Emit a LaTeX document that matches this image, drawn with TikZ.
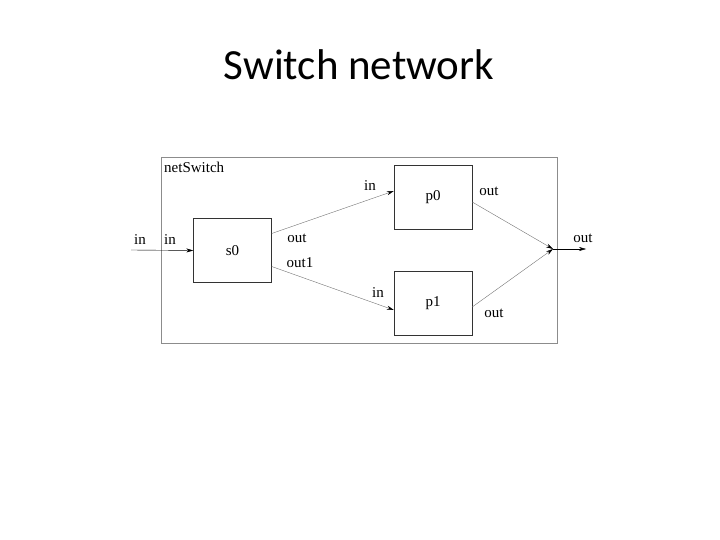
\documentclass[tikz,border=0pt]{standalone}
\usepackage{fontspec}
\setmainfont{Liberation Serif}
\newfontfamily\titlefont{Carlito}
\usetikzlibrary{arrows.meta,positioning}
\tikzset{
  block/.style={draw=black!80,thin,minimum width=78bp,minimum height=64bp,inner sep=0pt},
  wire/.style={draw=black!55,thin,-{Stealth[black,length=7bp,width=4bp]}},
  port/.style={font=\fontsize{15bp}{17bp}\selectfont,inner sep=0pt}
}
\begin{document}
\begin{tikzpicture}[x=1bp,y=-1bp]
            \useasboundingbox (0,0) rectangle (720,540);
            \node[font=\titlefont\fontsize{43bp}{48bp}\selectfont,anchor=base] (title) at (359,80) {Switch network};
            \draw [black!45](161,157) rectangle (557,343);
            \node[port,anchor=north west] (net) at (164,162) {netSwitch};
            \node[block] (s0) at (232.5,250.5) {\fontsize{15bp}{17bp}\selectfont s0};
            \node[block] (p0) at (433,197) {\fontsize{15bp}{17bp}\selectfont p0};
            \node[block] (p1) at (433,303) {\fontsize{15bp}{17bp}\selectfont p1};
            \coordinate (inp) at (131,250);
            \coordinate (join) at (553,249);
            \coordinate (outp) at (586,249);
            \draw [thin,-{Stealth[length=7bp,width=4bp]}] (inp) -- (s0.west);
            \draw [wire] ([yshift=17bp]s0.east) -- ([yshift=6bp]p0.west);
            \draw [wire] ([yshift=-16bp]s0.east) -- ([yshift=-7bp]p1.west);
            \draw [wire] ([yshift=-5bp]p0.east) -- (join);
            \draw [wire] ([yshift=-4bp]p1.east) -- (join);
            \draw [thin,-{Stealth[length=7bp,width=4bp]}] (join) -- (outp);
            % port names
            \node[port] (lin) at (140,240) {in};
            \node[port] (lsin) at (170,240) {in};
            \node[port] (lsout) at (297,238) {out};
            \node[port] (lsout1) at (300,263) {out1};
            \node[port] (lp0in) at (370,186) {in};
            \node[port] (lp1in) at (378,293) {in};
            \node[port] (lp0out) at (489,191) {out};
            \node[port] (lp1out) at (494,313) {out};
            \node[port] (lout) at (583,238) {out};
        \end{tikzpicture}
\end{document}
